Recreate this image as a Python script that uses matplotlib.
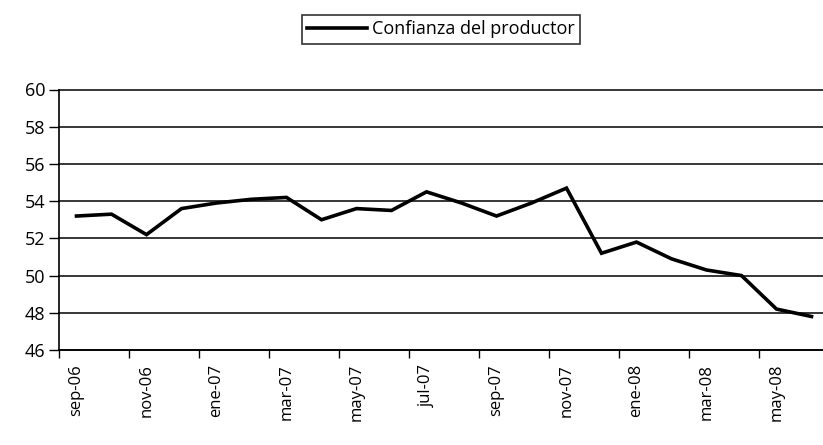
import matplotlib.pyplot as plt
import numpy as np

# monthly data, sep-06 .. jun-08
months = ['sep-06', 'oct-06', 'nov-06', 'dic-06', 'ene-07', 'feb-07', 'mar-07',
          'abr-07', 'may-07', 'jun-07', 'jul-07', 'ago-07', 'sep-07', 'oct-07',
          'nov-07', 'dic-07', 'ene-08', 'feb-08', 'mar-08', 'abr-08', 'may-08',
          'jun-08']
confianza = [53.2, 53.3, 52.2, 53.6, 53.9, 54.1, 54.2, 53.0, 53.6, 53.5, 54.5,
             53.9, 53.2, 53.9, 54.7, 51.2, 51.8, 50.9, 50.3, 50.0, 48.2, 47.8]
yticks = [46, 48, 50, 52, 54, 56, 58, 60]

plt.rcParams['font.family'] = ['Open Sans', 'DejaVu Sans']

fig = plt.figure(figsize=(8.23, 4.45), dpi=100)
W, H = 823.0, 445.0
ax = fig.add_axes([59 / W, 1 - 350 / H, (829 - 59) / W, (350 - 89.5) / H])

x = np.arange(len(months))
line, = ax.plot(x, confianza, color='black', lw=2.6, solid_joinstyle='miter',
                label='Confianza del productor', zorder=3)

ax.set_ylim(46, 60)
ax.set_xlim(-0.5, len(months) - 0.5)
ax.set_yticks(yticks)
ax.yaxis.grid(True, color='black', lw=1.1)
for gl in ax.get_ygridlines():
    gl.set_clip_on(False)
ax.set_axisbelow(True)

# ticks between categories, labels every second month
ax.set_xticks(np.arange(-0.5, len(months), 2))
ax.set_xticklabels([])
ax.set_xticks(x[::2], minor=True)
ax.set_xticklabels(months[::2], minor=True, rotation=90, fontsize=12)
ax.tick_params(axis='x', which='minor', length=0, pad=10)
ax.tick_params(axis='x', which='major', length=6, width=1, direction='out')
ax.tick_params(axis='y', length=7, width=1, labelsize=13, pad=3)

for s in ['top', 'right']:
    ax.spines[s].set_visible(False)
for s in ['left', 'bottom']:
    ax.spines[s].set_linewidth(1.2)

leg = fig.legend(handles=[line], loc='center', bbox_to_anchor=(441 / W, 1 - 29.5 / H),
                 frameon=True, fancybox=False, edgecolor='black', fontsize=13,
                 handlelength=3.3, handletextpad=0.3, borderpad=0.3)
leg.get_frame().set_linewidth(1.2)

fig.savefig('out.png', dpi=100)
